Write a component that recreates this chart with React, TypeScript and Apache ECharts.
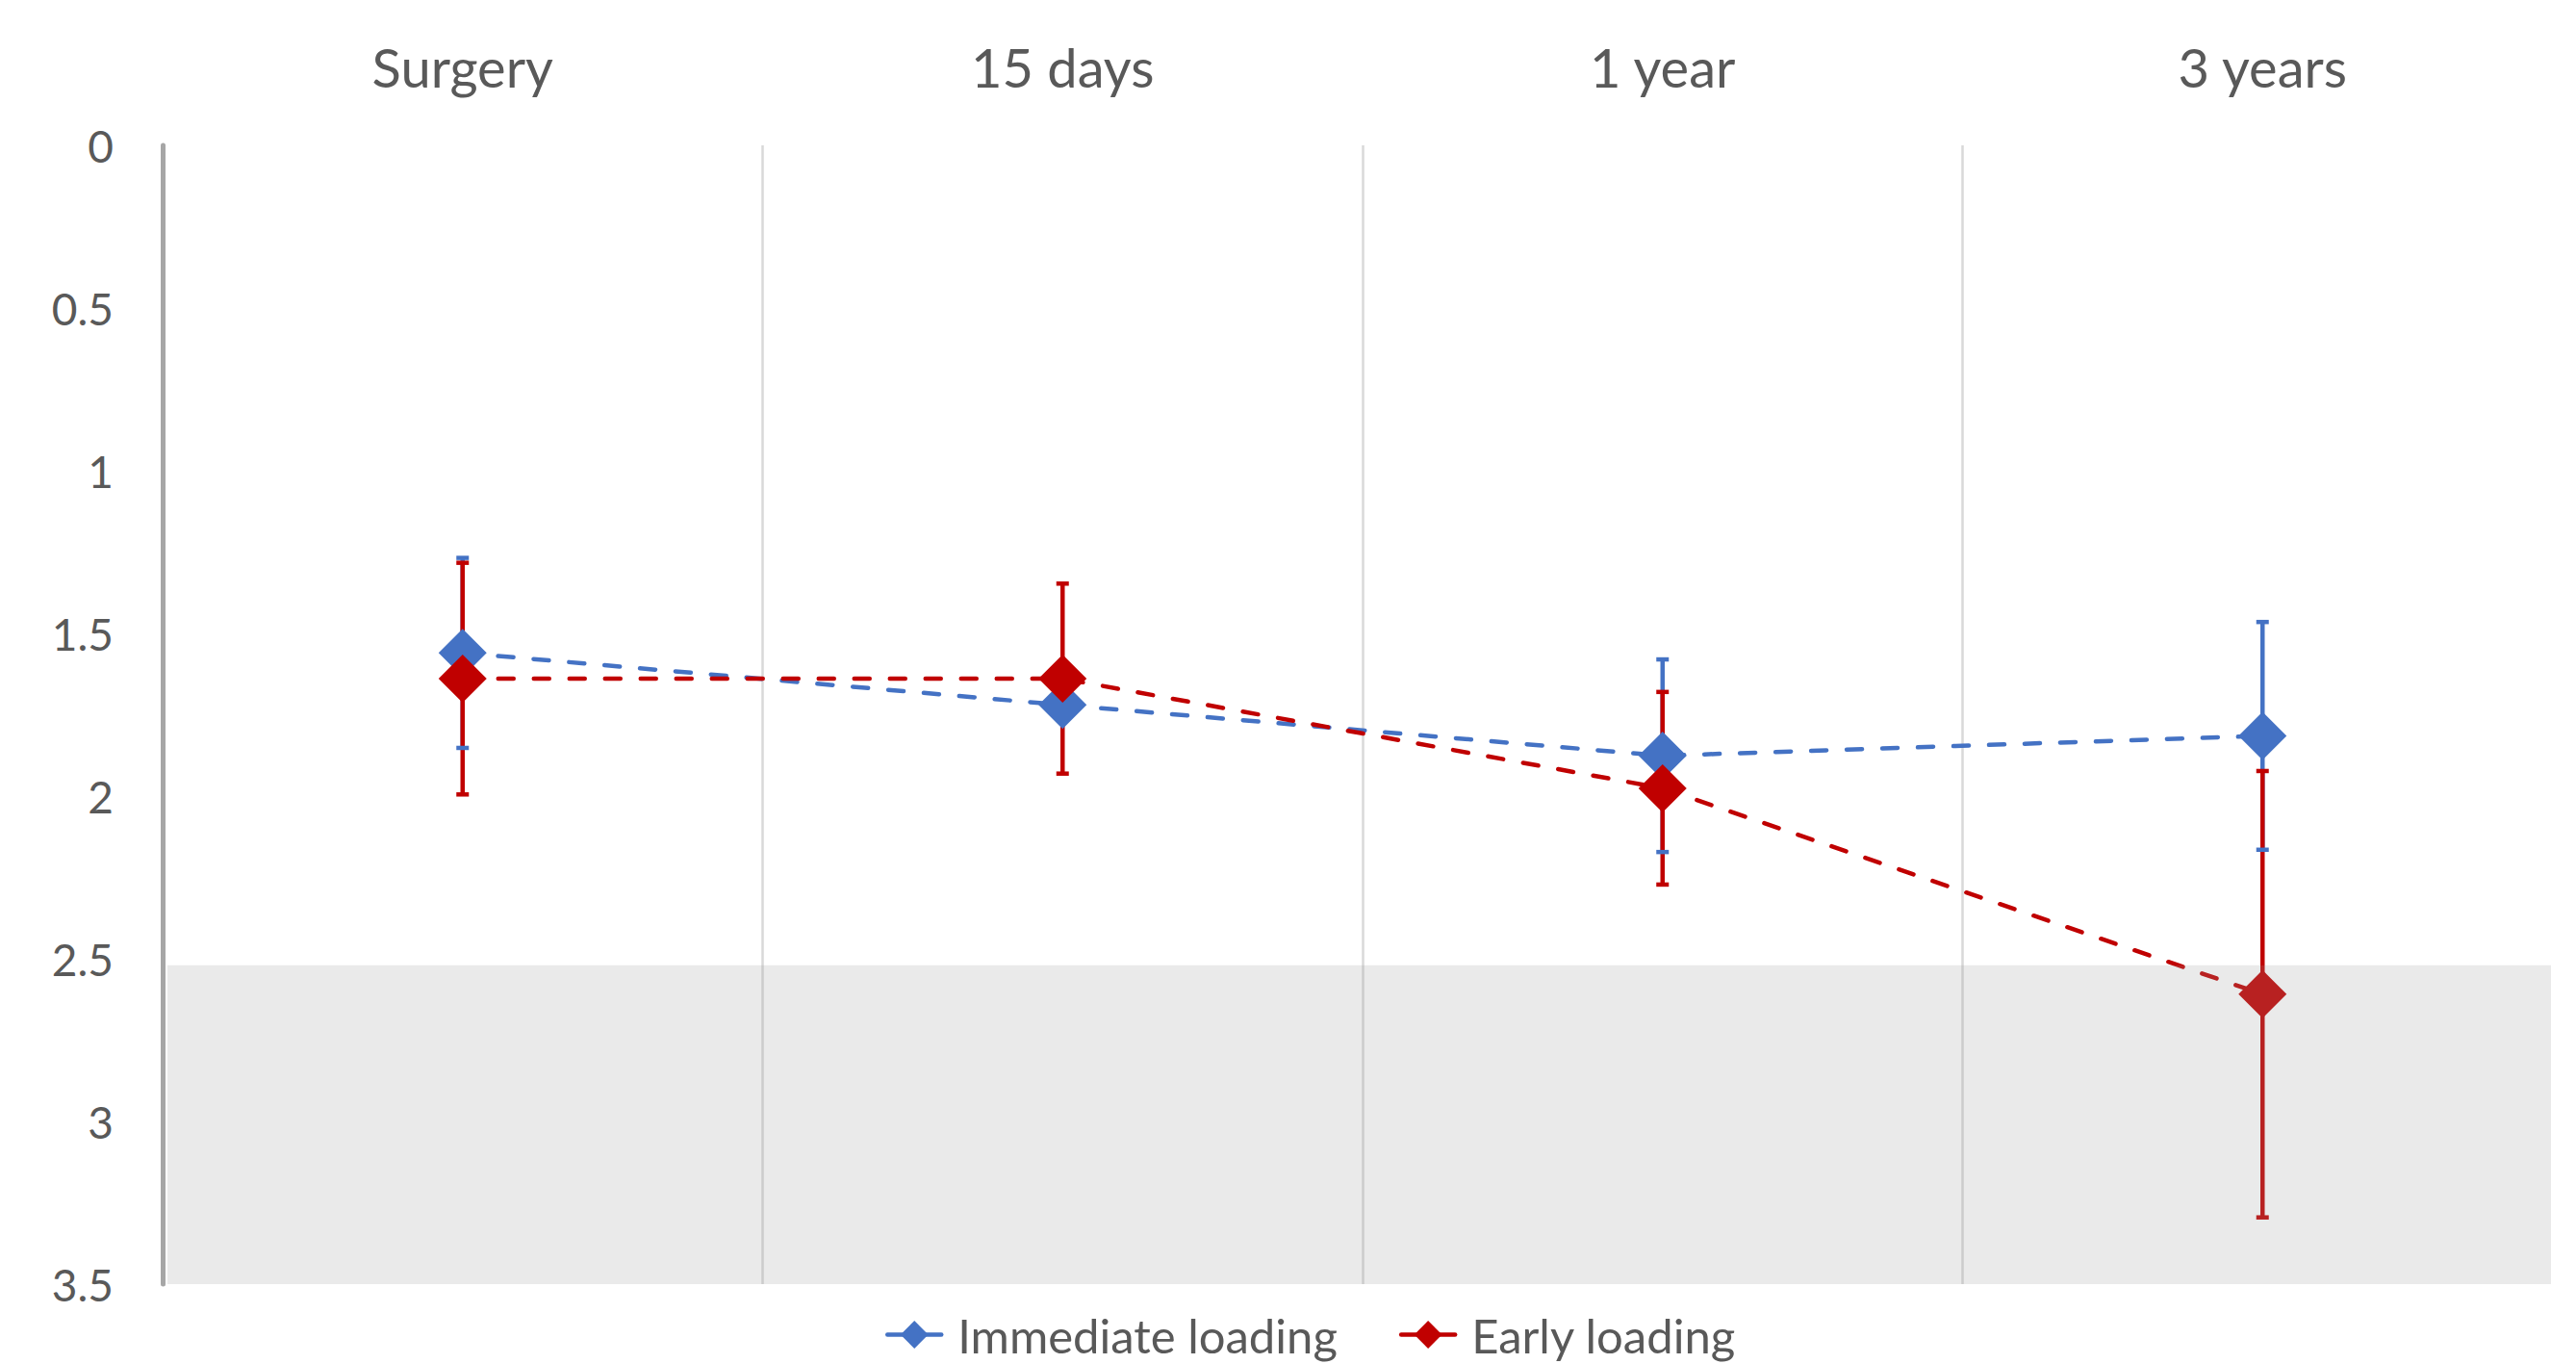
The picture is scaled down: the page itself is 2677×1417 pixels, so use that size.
import React, { useEffect, useRef } from "react";
import * as echarts from "echarts";

const categories = ["Surgery", "15 days", "1 year", "3 years"];
const immediateMean = [1.56, 1.72, 1.876, 1.815];
const immediateErr: (number | null)[] = [0.292, null, 0.296, 0.35];
const earlyMean = [1.639, 1.639, 1.976, 2.609];
const earlyErr: (number | null)[] = [0.356, 0.292, 0.296, 0.686];
const yMin = 0;
const yMax = 3.5;
const yInterval = 0.5;
const shadedBand = [2.52, 3.5];

const BLUE = "#4472C4";
const RED = "#C00000";
const TEXT = "#595959";
const FONT = "Lato, 'Open Sans', sans-serif";

function errData(mean: number[], err: (number | null)[]) {
  const out: number[][] = [];
  mean.forEach((m, i) => {
    const e = err[i];
    if (e != null) out.push([i, m - e, m + e]);
  });
  return out;
}

function errRender(color: string, drawLine: boolean, drawCaps: boolean) {
  return (params: any, api: any) => {
    const x = api.value(0);
    const pLo = api.coord([x, api.value(1)]);
    const pHi = api.coord([x, api.value(2)]);
    const children: any[] = [];
    if (drawLine) {
      children.push({
        type: "line",
        shape: { x1: pLo[0], y1: pLo[1], x2: pHi[0], y2: pHi[1] },
        style: { stroke: color, lineWidth: 4.5 },
      });
    }
    if (drawCaps) {
      [pLo, pHi].forEach((p) => {
        children.push({
          type: "line",
          shape: { x1: p[0] - 6.5, y1: p[1], x2: p[0] + 6.5, y2: p[1] },
          style: { stroke: color, lineWidth: 4.5 },
        });
      });
    }
    return { type: "group", children };
  };
}

export default function App() {
  const ref = useRef<HTMLDivElement>(null);
  useEffect(() => {
    document.body.style.margin = "0";
    if (!ref.current) return;
    const chart = echarts.init(ref.current, undefined, { renderer: "svg" });
    const lineCommon = {
      type: "line" as const,
      symbol: "diamond",
      symbolSize: 50,
      showSymbol: true,
    };
    chart.setOption({
      animation: false,
      backgroundColor: "#ffffff",
      grid: {
        left: 169,
        right: 14,
        top: 151,
        bottom: 83,
        containLabel: false,
        outerBoundsMode: "none",
      },
      legend: {
        data: ["Immediate loading", "Early loading"],
        top: 1357,
        left: 915,
        itemWidth: 56,
        itemHeight: 36,
        itemGap: 64,
        textStyle: {
          fontFamily: FONT,
          fontSize: 49,
          lineHeight: 49,
          color: TEXT,
          padding: [0, 0, 0, 12],
        },
        lineStyle: { type: "solid", width: 4.5 },
      },
      xAxis: {
        type: "category",
        data: categories,
        position: "top",
        boundaryGap: true,
        axisLine: { show: false },
        axisTick: { show: false },
        axisLabel: {
          margin: 54,
          fontFamily: FONT,
          fontSize: 56,
          color: TEXT,
        },
        splitLine: {
          show: true,
          showMinLine: false,
          showMaxLine: false,
          lineStyle: { color: "#D9D9D9", width: 2.5 },
        },
      },
      yAxis: {
        type: "value",
        inverse: true,
        min: yMin,
        max: yMax,
        interval: yInterval,
        axisLine: { show: true, lineStyle: { color: "#A6A6A6", width: 5 } },
        axisTick: { show: false },
        splitLine: { show: false },
        axisLabel: {
          margin: 51,
          fontFamily: FONT,
          fontSize: 46,
          color: TEXT,
        },
      },
      series: [
        {
          type: "custom",
          name: "immErrLines",
          renderItem: errRender(BLUE, true, false),
          data: errData(immediateMean, immediateErr),
          encode: { x: 0, y: [1, 2] },
          z: 2,
          silent: true,
        },
        {
          type: "custom",
          name: "earlyErr",
          renderItem: errRender(RED, true, true),
          data: errData(earlyMean, earlyErr),
          encode: { x: 0, y: [1, 2] },
          z: 2,
          silent: true,
        },
        {
          type: "custom",
          name: "immErrCaps",
          renderItem: errRender(BLUE, false, true),
          data: errData(immediateMean, immediateErr),
          encode: { x: 0, y: [1, 2] },
          z: 2,
          silent: true,
        },
        {
          ...lineCommon,
          name: "Immediate loading",
          data: immediateMean,
          itemStyle: { color: BLUE },
          lineStyle: { color: BLUE, width: 4.5, type: [16, 21], cap: "round" },
          z: 3,
        },
        {
          ...lineCommon,
          name: "Early loading",
          data: earlyMean,
          itemStyle: { color: RED },
          lineStyle: { color: RED, width: 4.5, type: [16, 21], cap: "round" },
          z: 4,
        },
        {
          type: "custom",
          name: "band",
          silent: true,
          z: 10,
          encode: { x: 0, y: [1, 2] },
          data: [[0, shadedBand[0], shadedBand[1]]],
          renderItem: (params: any, api: any) => {
            const cs = params.coordSys;
            const y1 = api.coord([0, api.value(1)])[1];
            const y2 = api.coord([0, api.value(2)])[1];
            return {
              type: "rect",
              shape: { x: cs.x + 5, y: y1, width: cs.width - 17, height: y2 - y1 },
              style: { fill: "rgba(154,154,154,0.21)" },
            };
          },
        },
      ],
    });
    return () => chart.dispose();
  }, []);
  return <div ref={ref} style={{ width: 2677, height: 1417 }} />;
}
